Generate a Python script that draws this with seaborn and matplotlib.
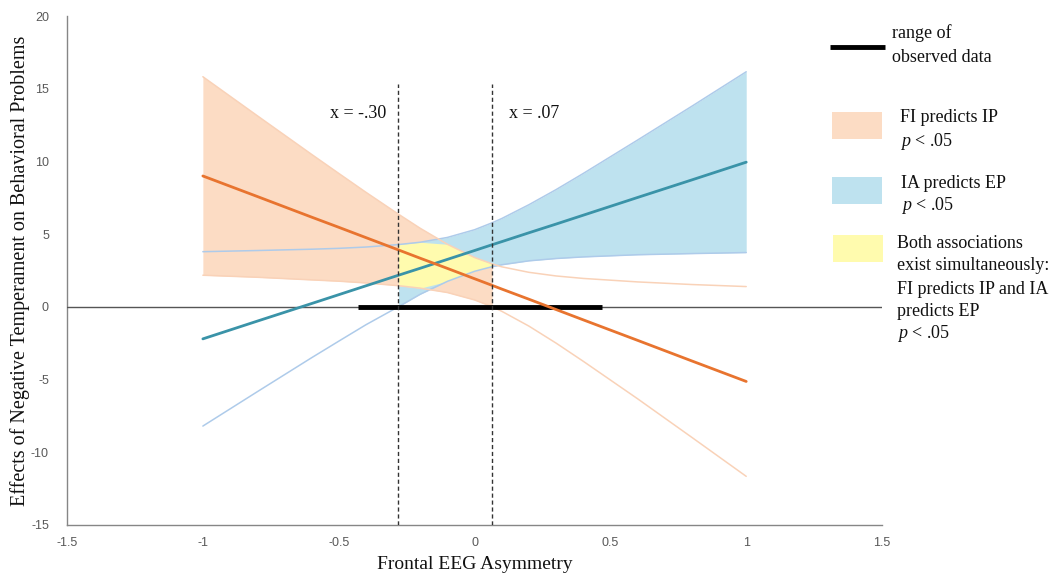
import numpy as np
import pandas as pd
import matplotlib
matplotlib.use("Agg")
import matplotlib.pyplot as plt
from matplotlib.patches import Rectangle
from matplotlib.lines import Line2D
import seaborn as sns

# -----------------------------
# Data
# -----------------------------
asym = [-1.0, -0.8, -0.6, -0.5, -0.4, -0.28, -0.2, -0.1, 0.0, 0.065, 0.1, 0.2, 0.3, 0.4, 0.6, 0.8, 1.0]

# FI predicts IP (orange)
fi_mid = [9.00, 7.59, 6.17, 5.47, 4.76, 3.91, 3.34, 2.64, 1.93, 1.47, 1.22, 0.52, -0.19, -0.90, -2.31, -3.73, -5.14]
fi_upper = [15.83, 13.15, 10.49, 9.18, 7.88, 6.37, 5.40, 4.30, 3.39, 2.95, 2.75, 2.37, 2.12, 1.95, 1.71, 1.53, 1.39]
fi_lower = [2.17, 2.03, 1.85, 1.76, 1.64, 1.45, 1.28, 0.98, 0.47, 0.00, -0.31, -1.33, -2.50, -3.75, -6.33, -8.99, -11.67]

# IA predicts EP (blue)
ia_mid = [-2.21, -0.99, 0.22, 0.83, 1.44, 2.17, 2.65, 3.26, 3.87, 4.27, 4.48, 5.09, 5.69, 6.30, 7.52, 8.73, 9.95]
ia_upper = [3.79, 3.87, 3.96, 4.02, 4.11, 4.28, 4.44, 4.77, 5.30, 5.78, 6.07, 7.02, 8.06, 9.17, 11.47, 13.80, 16.17]
ia_lower = [-8.21, -5.85, -3.51, -2.37, -1.24, 0.00, 0.86, 1.75, 2.44, 2.76, 2.89, 3.16, 3.32, 3.43, 3.58, 3.66, 3.73]

# regions of significance and observed range
ia_sig_from = -0.28   # labelled x = -.30
fi_sig_to = 0.065     # labelled x = .07
observed_range = [-0.43, 0.47]

x_ticks = [-1.5, -1, -0.5, 0, 0.5, 1, 1.5]
x_ticklabels = ["-1.5", "-1", "-0.5", "0", "0.5", "1", "1.5"]
y_ticks = [-15, -10, -5, 0, 5, 10, 15, 20]

# colours
c_orange_fill = "#FCDCC4"
c_blue_fill = "#BEE2EF"
c_yellow_fill = "#FFFBAE"
c_orange_line = "#E8742F"
c_blue_line = "#3A93A8"
c_orange_ci = "#F9D2B8"
c_blue_ci = "#AECBEA"

df = pd.DataFrame({
    "asym": asym,
    "fi_mid": fi_mid, "fi_upper": fi_upper, "fi_lower": fi_lower,
    "ia_mid": ia_mid, "ia_upper": ia_upper, "ia_lower": ia_lower,
})

# -----------------------------
# Plot
# -----------------------------
sns.set_theme(style="white")
plt.rcParams["font.family"] = ["Liberation Serif", "DejaVu Serif"]
plt.rcParams["mathtext.fontset"] = "custom"
plt.rcParams["mathtext.rm"] = "Liberation Serif"
plt.rcParams["mathtext.it"] = "Liberation Serif:italic"
plt.rcParams["axes.unicode_minus"] = False

fig = plt.figure(figsize=(10.64, 5.76), dpi=100)
ax = fig.add_axes([0.063, 0.089, 0.766, 0.883])

x = df["asym"].to_numpy()
fi_zone = x <= fi_sig_to
ia_zone = x >= ia_sig_from
both_zone = fi_zone & ia_zone

ax.fill_between(x, df["fi_lower"], df["fi_upper"], where=fi_zone, color=c_orange_fill, lw=0, zorder=1)
ax.fill_between(x, df["ia_lower"], df["ia_upper"], where=ia_zone, color=c_blue_fill, lw=0, zorder=1)
ax.fill_between(x, np.maximum(df["fi_lower"], df["ia_lower"]), np.minimum(df["fi_upper"], df["ia_upper"]),
                where=both_zone, color=c_yellow_fill, lw=0, zorder=2)

ax.axhline(0, color="#555555", lw=1, zorder=3)

for col in ["ia_upper", "ia_lower"]:
    sns.lineplot(data=df, x="asym", y=col, ax=ax, color=c_blue_ci, lw=1.1, zorder=4)
for col in ["fi_upper", "fi_lower"]:
    sns.lineplot(data=df, x="asym", y=col, ax=ax, color=c_orange_ci, lw=1.1, zorder=4)

sns.lineplot(data=df, x="asym", y="ia_mid", ax=ax, color=c_blue_line, lw=2, zorder=6)
sns.lineplot(data=df, x="asym", y="fi_mid", ax=ax, color=c_orange_line, lw=2, zorder=6)

ax.plot(observed_range, [0, 0], color="black", lw=3.5, solid_capstyle="butt", zorder=5)

for xv in [ia_sig_from, fi_sig_to]:
    ax.plot([xv, xv], [-15, 15.3], color="#333333", lw=1, ls=(0, (3, 2)), zorder=7)
ax.text(-0.43, 13.3, "x = -.30", fontsize=13, ha="center", va="center", color="#111111")
ax.text(0.125, 13.3, "x = .07", fontsize=13, ha="left", va="center", color="#111111")

ax.set_xlim(-1.5, 1.5)
ax.set_ylim(-15, 20)
ax.set_xticks(x_ticks)
ax.set_xticklabels(x_ticklabels)
ax.set_yticks(y_ticks)
ax.set_yticklabels([str(v) for v in y_ticks])
for lab in ax.get_xticklabels() + ax.get_yticklabels():
    lab.set_fontfamily("Liberation Sans")
    lab.set_fontsize(9)
    lab.set_color("#595959")
ax.tick_params(axis="both", direction="out", length=4, width=1, color="#868686", pad=5)
ax.tick_params(axis="y", pad=9)
for side in ["top", "right"]:
    ax.spines[side].set_visible(False)
for side in ["left", "bottom"]:
    ax.spines[side].set_color("#868686")
    ax.spines[side].set_linewidth(1)

ax.set_xlabel("Frontal EEG Asymmetry", fontsize=14, labelpad=5, color="#111111")
ax.set_ylabel("Effects of Negative Temperament on Behavioral Problems", fontsize=14.5, labelpad=1, color="#111111")

# -----------------------------
# Legend drawn to the right of the axes (pixel layout -> figure coords)
# -----------------------------
W, H = 1064, 576


def fx(px):
    return px / W


def fy(py):
    return 1 - py / H


fig.add_artist(Line2D([fx(830), fx(885)], [fy(47), fy(47)], color="black", lw=3.5, solid_capstyle="butt"))
legend_patches = [(832, 112, c_orange_fill), (832, 177, c_blue_fill), (833, 235, c_yellow_fill)]
for px, py, col in legend_patches:
    fig.add_artist(Rectangle((fx(px), fy(py + 27)), 50 / W, 27 / H, color=col, lw=0))

legend_text = [
    (892, [33, 57], ["range of", "observed data"]),
    (900, [118, 141], ["FI predicts IP", r"$\it{p}$ < .05"]),
    (901, [184, 206], ["IA predicts EP", r"$\it{p}$ < .05"]),
    (897, [243, 266, 289, 311, 334], ["Both associations", "exist simultaneously:",
                                      "FI predicts IP and IA", "predicts EP", r"$\it{p}$ < .05"]),
]
for px, ys, lines in legend_text:
    for py, txt in zip(ys, lines):
        fig.text(fx(px), fy(py), txt, fontsize=13, ha="left", va="center", color="#111111")

fig.savefig("out.png", dpi=100)
